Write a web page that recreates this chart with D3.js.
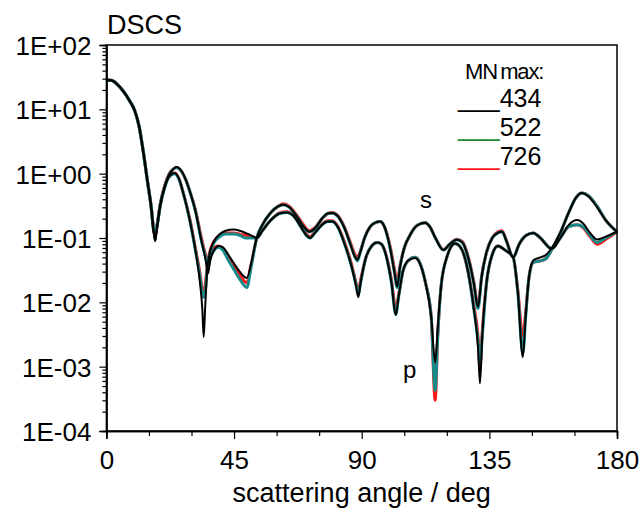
<!DOCTYPE html>
<html>
<head>
<meta charset="utf-8">
<script src="https://cdn.jsdelivr.net/npm/d3@7"></script>
<style>
  body { margin: 0; background: #fff; }
  text { font-family: "Liberation Sans", Arial, sans-serif; fill: #000; }
</style>
</head>
<body>
<div id="chart"></div>
<script>
// scattering angles (deg) for the s and p curves
const sAngles = [
  0, 2, 4, 6, 8, 10, 11.5, 13, 14.5, 15.8,
  16.7, 17.2, 17.8, 19, 20.5, 22, 23.5, 24.7, 26.5, 28,
  29.6, 31.5, 33.5, 35, 35.8, 36.6, 38, 39.5, 41, 43,
  45, 47, 49.5, 51, 53, 55, 58, 60.5, 62.3, 64.5,
  67, 69.5, 71.5, 73.5, 76, 78, 79.6, 81.5, 84, 86,
  87.7, 88.5, 89.5, 91, 93, 95, 96.5, 98, 100, 101.5,
  102.5, 103.5, 105, 107, 109, 111, 112.4, 114, 116, 118.8,
  121, 123.5, 125.5, 127.5, 129.5, 131, 132.3, 134, 136, 138,
  139.5, 141, 143.4, 145.5, 148, 150.5, 153, 157, 160, 163,
  166, 168, 170.5, 173, 176, 180
];
const pAngles = [
  0, 2, 4, 6, 8, 10, 11.5, 13, 14.5, 15.8,
  16.7, 17.2, 17.8, 19, 20.5, 22, 24, 25.5, 27.1, 29.5,
  31.5, 33, 33.8, 34.3, 34.8, 35.5, 36.5, 38, 40, 42,
  44.8, 47, 49, 51, 53, 55, 58, 61, 63.7, 66,
  68.5, 70.5, 71.8, 73.5, 76, 78, 79.6, 81.5, 84, 86.5,
  88, 88.8, 89.6, 91.5, 93.5, 95.5, 97, 99, 100.5, 102,
  103, 104.5, 106.5, 108.8, 110.5, 112.5, 114.5, 115.9, 116.8, 118,
  120, 122.9, 125, 127.5, 129.5, 131, 131.7, 132.5, 134, 136,
  138, 140.5, 143.4, 145, 146.8, 147.8, 149, 150.5, 153, 155,
  157, 160, 163, 165.5, 167.6, 170, 173, 176, 180
];

// DSCS values, s polarisation
const s434 = [
  28.6, 28, 24, 19, 14, 9.5, 5.5, 2.2, 0.75, 0.3,
  0.12, 0.09, 0.14, 0.33, 0.62, 0.95, 1.17, 1.27, 1.1, 0.8,
  0.5, 0.25, 0.09, 0.045, 0.028, 0.045, 0.065, 0.075, 0.072, 0.055,
  0.04, 0.03, 0.024, 0.04, 0.1, 0.16, 0.25, 0.31, 0.33, 0.3,
  0.22, 0.15, 0.125, 0.14, 0.2, 0.24, 0.245, 0.22, 0.14, 0.08,
  0.05, 0.046, 0.06, 0.1, 0.15, 0.175, 0.18, 0.15, 0.07, 0.03,
  0.0176, 0.035, 0.07, 0.11, 0.15, 0.168, 0.173, 0.15, 0.1, 0.065,
  0.08, 0.094, 0.085, 0.05, 0.02, 0.0085, 0.025, 0.06, 0.1, 0.12,
  0.125, 0.09, 0.05, 0.08, 0.11, 0.12, 0.1, 0.068, 0.1, 0.16,
  0.19, 0.17, 0.12, 0.095, 0.105, 0.125
];
const s522 = [
  28.6, 28, 24, 19, 14, 9.5, 5.5, 2.2, 0.75, 0.3,
  0.13, 0.12, 0.15, 0.33, 0.62, 0.95, 1.17, 1.25, 1.08, 0.8,
  0.5, 0.25, 0.09, 0.05, 0.035, 0.048, 0.065, 0.072, 0.065, 0.045,
  0.032, 0.023, 0.017, 0.035, 0.1, 0.16, 0.25, 0.31, 0.33, 0.3,
  0.22, 0.15, 0.125, 0.14, 0.2, 0.24, 0.245, 0.22, 0.14, 0.08,
  0.05, 0.044, 0.06, 0.1, 0.15, 0.175, 0.18, 0.15, 0.07, 0.03,
  0.017, 0.035, 0.07, 0.11, 0.15, 0.168, 0.173, 0.15, 0.1, 0.065,
  0.08, 0.094, 0.085, 0.05, 0.02, 0.008, 0.025, 0.06, 0.1, 0.12,
  0.125, 0.09, 0.05, 0.08, 0.11, 0.12, 0.1, 0.068, 0.1, 0.15,
  0.16, 0.15, 0.11, 0.085, 0.1, 0.125
];
const s726 = [
  28.6, 28, 24, 19, 14, 9.5, 5.5, 2.2, 0.75, 0.3,
  0.13, 0.11, 0.15, 0.34, 0.64, 0.97, 1.18, 1.25, 1.08, 0.8,
  0.5, 0.26, 0.1, 0.055, 0.046, 0.055, 0.07, 0.075, 0.068, 0.05,
  0.036, 0.027, 0.02, 0.038, 0.1, 0.16, 0.25, 0.31, 0.34, 0.31,
  0.23, 0.16, 0.13, 0.145, 0.2, 0.24, 0.25, 0.225, 0.145, 0.085,
  0.055, 0.05, 0.062, 0.1, 0.15, 0.175, 0.18, 0.15, 0.075, 0.034,
  0.02, 0.037, 0.07, 0.11, 0.15, 0.168, 0.173, 0.15, 0.1, 0.066,
  0.08, 0.096, 0.088, 0.052, 0.021, 0.009, 0.026, 0.06, 0.1, 0.125,
  0.13, 0.092, 0.05, 0.08, 0.11, 0.12, 0.1, 0.068, 0.1, 0.15,
  0.16, 0.145, 0.105, 0.08, 0.095, 0.125
];

// DSCS values, p polarisation
const p434 = [
  28.6, 28, 24, 19, 14, 9.5, 5.5, 2.2, 0.75, 0.3,
  0.12, 0.09, 0.14, 0.32, 0.6, 0.88, 1.02, 0.85, 0.5, 0.18,
  0.06, 0.02, 0.008, 0.0029, 0.008, 0.03, 0.06, 0.09, 0.115, 0.13,
  0.135, 0.13, 0.12, 0.11, 0.1, 0.13, 0.19, 0.24, 0.25, 0.22,
  0.15, 0.11, 0.1, 0.12, 0.16, 0.18, 0.18, 0.15, 0.08, 0.035,
  0.018, 0.012, 0.02, 0.05, 0.075, 0.085, 0.08, 0.045, 0.02, 0.0063,
  0.012, 0.03, 0.045, 0.049, 0.04, 0.02, 0.006, 0.00115, 0.004, 0.018,
  0.05, 0.082, 0.07, 0.03, 0.008, 0.002, 0.00055, 0.003, 0.02, 0.055,
  0.075, 0.065, 0.05, 0.015, 0.0014, 0.006, 0.025, 0.045, 0.05, 0.055,
  0.07, 0.12, 0.25, 0.42, 0.5, 0.44, 0.3, 0.19, 0.125
];
const p522 = [
  28.6, 28, 24, 19, 14, 9.5, 5.5, 2.2, 0.75, 0.3,
  0.13, 0.12, 0.15, 0.32, 0.6, 0.88, 1.0, 0.84, 0.5, 0.18,
  0.06, 0.025, 0.014, 0.012, 0.014, 0.032, 0.058, 0.085, 0.105, 0.115,
  0.115, 0.11, 0.1, 0.1, 0.1, 0.13, 0.19, 0.24, 0.25, 0.22,
  0.15, 0.11, 0.1, 0.12, 0.16, 0.18, 0.18, 0.15, 0.08, 0.035,
  0.019, 0.013, 0.02, 0.05, 0.075, 0.085, 0.08, 0.045, 0.02, 0.0065,
  0.012, 0.03, 0.045, 0.05, 0.041, 0.02, 0.006, 0.00043, 0.003, 0.018,
  0.05, 0.082, 0.07, 0.03, 0.008, 0.0025, 0.0011, 0.003, 0.02, 0.055,
  0.075, 0.065, 0.05, 0.015, 0.0016, 0.006, 0.025, 0.042, 0.044, 0.048,
  0.066, 0.12, 0.25, 0.42, 0.5, 0.45, 0.31, 0.19, 0.125
];
const p726 = [
  28.6, 28, 24, 19, 14, 9.5, 5.5, 2.2, 0.75, 0.3,
  0.13, 0.11, 0.15, 0.33, 0.62, 0.9, 1.02, 0.85, 0.5, 0.19,
  0.065, 0.028, 0.016, 0.015, 0.018, 0.035, 0.062, 0.09, 0.11, 0.12,
  0.12, 0.115, 0.11, 0.105, 0.1, 0.13, 0.19, 0.245, 0.255, 0.225,
  0.155, 0.115, 0.105, 0.125, 0.165, 0.185, 0.185, 0.155, 0.085, 0.038,
  0.02, 0.015, 0.022, 0.05, 0.075, 0.085, 0.08, 0.047, 0.022, 0.008,
  0.013, 0.03, 0.045, 0.05, 0.041, 0.02, 0.006, 0.0003, 0.003, 0.018,
  0.05, 0.082, 0.07, 0.03, 0.009, 0.003, 0.001, 0.0035, 0.02, 0.055,
  0.075, 0.065, 0.05, 0.016, 0.003, 0.007, 0.025, 0.042, 0.044, 0.048,
  0.066, 0.12, 0.25, 0.42, 0.5, 0.45, 0.31, 0.19, 0.125
];

const legendLabels = ["434", "522", "726"];
const xTicks = [0, 45, 90, 135, 180];
const xMinorTicks = [15, 30, 60, 75, 105, 120, 150, 165];
const yTicks = [1e-4, 1e-3, 1e-2, 1e-1, 1e0, 1e1, 1e2];
const yTickLabels = ["1E-04", "1E-03", "1E-02", "1E-01", "1E+00", "1E+01", "1E+02"];

const width = 641, height = 514;
const margin = {top: 45, right: 24, bottom: 83, left: 106.4};

const svg = d3.select("#chart")
  .append("svg")
  .attr("width", width)
  .attr("height", height);

const x = d3.scaleLinear()
  .domain([0, 180])
  .range([margin.left, width - margin.right]);
const y = d3.scaleLog()
  .domain([1e-4, 1e2])
  .range([height - margin.bottom, margin.top]);

// curves: colored ones underneath, black on top
const series = [
  {ang: sAngles, val: s726, color: "#ff1a1a", w: 3},
  {ang: pAngles, val: p726, color: "#ff1a1a", w: 3},
  {ang: sAngles, val: s522, color: "#168a8a", w: 3},
  {ang: pAngles, val: p522, color: "#168a8a", w: 3},
  {ang: sAngles, val: s434, color: "#000", w: 2},
  {ang: pAngles, val: p434, color: "#000", w: 2}
];

const line = d3.line()
  .x(d => x(d[0]))
  .y(d => y(d[1]))
  .curve(d3.curveMonotoneX);

svg.append("g")
  .selectAll("path")
  .data(series)
  .enter()
  .append("path")
    .attr("d", d => line(d.ang.map((a, i) => [a, d.val[i]])))
    .attr("fill", "none")
    .attr("stroke", d => d.color)
    .attr("stroke-width", d => d.w)
    .attr("stroke-linejoin", "round");

// frame
svg.append("rect")
  .attr("x", x(0))
  .attr("y", y(1e2))
  .attr("width", x(180) - x(0))
  .attr("height", y(1e-4) - y(1e2))
  .attr("fill", "none")
  .attr("stroke", "#000")
  .attr("stroke-width", 1.5);

// x axis
const gx = svg.append("g")
  .attr("transform", `translate(0,${y(1e-4)})`)
  .call(d3.axisBottom(x).tickValues(xTicks).tickSize(8).tickPadding(6).tickFormat(d3.format("d")));
svg.append("g")
  .attr("transform", `translate(0,${y(1e-4)})`)
  .call(d3.axisBottom(x).tickValues(xMinorTicks).tickSize(5).tickFormat(""));

// y axis
const yMinor = [];
for (let e = -4; e < 2; e++) {
  for (let k = 2; k <= 9; k++) yMinor.push(k * Math.pow(10, e));
}
const gy = svg.append("g")
  .attr("transform", `translate(${x(0)},0)`)
  .call(d3.axisLeft(y).tickValues(yTicks).tickSize(7).tickPadding(8)
    .tickFormat((d, i) => yTickLabels[i]));
svg.append("g")
  .attr("transform", `translate(${x(0)},0)`)
  .call(d3.axisLeft(y).tickValues(yMinor).tickSize(4).tickFormat(""));

svg.selectAll(".domain").attr("stroke-width", 1.5);
svg.selectAll(".tick line").attr("stroke-width", 1.2);
svg.selectAll(".tick text")
  .style("font-family", "'Liberation Sans', Arial, sans-serif")
  .style("font-size", "26px");
gy.selectAll(".tick text").attr("dy", "0.36em");
gx.selectAll(".tick text").attr("dy", "0.92em");

// titles
svg.append("text")
  .attr("x", 107).attr("y", 34)
  .style("font-size", "27px")
  .text("DSCS");
svg.append("text")
  .attr("x", x(90)).attr("y", 502)
  .attr("text-anchor", "middle")
  .style("font-size", "27px")
  .text("scattering angle / deg");

// curve labels
svg.append("text").attr("x", 420).attr("y", 208).style("font-size", "24px").text("s");
svg.append("text").attr("x", 403).attr("y", 378).style("font-size", "24px").text("p");

// legend
svg.append("text")
  .attr("x", 465).attr("y", 79)
  .style("font-size", "22px")
  .html('<tspan letter-spacing="-1">MN</tspan><tspan dx="3" letter-spacing="-1.2">max:</tspan>');
const legendColors = ["#000", "#1e8a30", "#ff1a1a"];
legendLabels.forEach((lab, i) => {
  const t = svg.append("text")
    .attr("x", 458).attr("y", 107 + i * 29)
    .style("font-size", "25px");
  t.append("tspan").style("fill", legendColors[i]).text("___");
  t.append("tspan").text(lab);
});
</script>
</body>
</html>
